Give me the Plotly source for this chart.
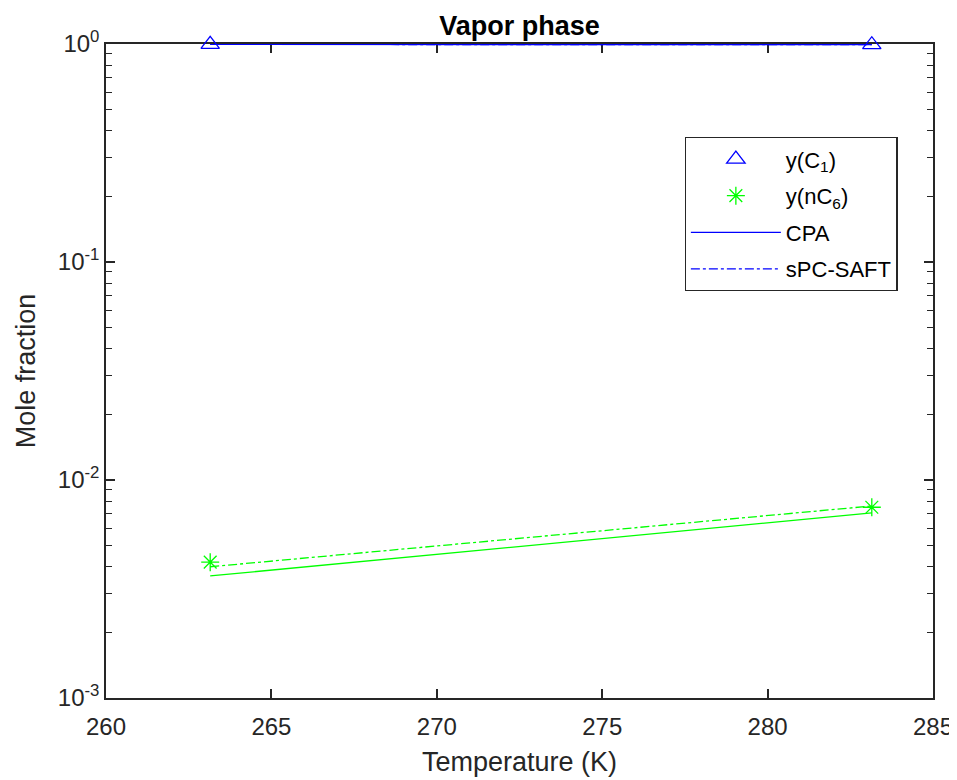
import plotly.graph_objects as go

T_exp = [263.15, 283.15]
y_C1_exp = [0.9958, 0.9925]
y_nC6_exp = [0.0042, 0.0075]

T_model = [263.15, 283.15]
cpa_nC6 = [0.00363, 0.00706]
cpa_C1 = [1 - v for v in cpa_nC6]
saft_nC6 = [0.0040, 0.0076]
saft_C1 = [1 - v for v in saft_nC6]

x_ticks = [260, 265, 270, 275, 280, 285]
y_ticks = [0.001, 0.01, 0.1, 1]
y_ticktext = ["10<sup>-3</sup>", "10<sup>-2</sup>", "10<sup>-1</sup>", "10<sup>0</sup>"]

BLUE = "#0000ff"
GREEN = "#00ff00"
FONT = "Liberation Sans, Arial, sans-serif"
AX = "#262626"

fig = go.Figure()
fig.add_trace(go.Scatter(x=T_exp, y=y_C1_exp, mode="markers", name="y(C<sub>1</sub>)",
                         legendgroup="a", cliponaxis=False,
                         marker=dict(symbol="triangle-up-open", size=16, color=BLUE, line=dict(width=1.3))))
fig.add_trace(go.Scatter(x=T_exp, y=y_nC6_exp, mode="markers", name="y(nC<sub>6</sub>)",
                         legendgroup="b", cliponaxis=False,
                         marker=dict(symbol="asterisk-open", size=15, color=GREEN, line=dict(width=1.3, color=GREEN))))
fig.add_trace(go.Scatter(x=T_model, y=cpa_C1, mode="lines", name="CPA", legendgroup="c",
                         cliponaxis=False, line=dict(color=BLUE, width=1.3)))
fig.add_trace(go.Scatter(x=T_model, y=saft_C1, mode="lines", name="sPC-SAFT", legendgroup="d",
                         cliponaxis=False, line=dict(color=BLUE, width=1.3, dash="dashdot")))
fig.add_trace(go.Scatter(x=T_model, y=cpa_nC6, mode="lines", showlegend=False,
                         line=dict(color=GREEN, width=1.3)))
fig.add_trace(go.Scatter(x=T_model, y=saft_nC6, mode="lines", showlegend=False,
                         line=dict(color=GREEN, width=1.3, dash="dashdot")))

minor_vals = [m * 10 ** e for e in (-3, -2, -1) for m in range(2, 10)]

fig.update_layout(
    width=957, height=780,
    margin=dict(l=98, r=30, t=36, b=90),
    paper_bgcolor="white", plot_bgcolor="white",
    font=dict(family=FONT, size=24, color=AX),
    title=dict(text="<b>Vapor phase</b>", xref="paper", x=0.5, xanchor="center",
               yref="container", y=0.977, yanchor="middle",
               font=dict(size=27, color="black")),
    xaxis=dict(range=[260, 285], tickvals=x_ticks, ticks="inside", ticklen=9, tickwidth=1.5,
               tickcolor=AX, showline=True, linecolor=AX, linewidth=1.5,
               mirror="ticks", showgrid=False, zeroline=False, layer="below traces",
               ticklabelstandoff=6, ticklabeloverflow="allow",
               title=dict(text="Temperature (K)", font=dict(size=27), standoff=14)),
    yaxis=dict(type="log", range=[-3, 0], tickvals=y_ticks, ticktext=y_ticktext,
               ticks="inside", ticklen=9, tickwidth=1.5, tickcolor=AX,
               showline=True, linecolor=AX, linewidth=1.5, mirror="ticks",
               showgrid=False, zeroline=False, layer="below traces",
               minor=dict(tickvals=minor_vals, ticks="inside", ticklen=6, tickwidth=1.3,
                          tickcolor=AX, showgrid=False),
               title=dict(text="Mole fraction", font=dict(size=27), standoff=14)),
    legend=dict(x=0.6996, y=0.8578, xanchor="left", yanchor="top",
                bordercolor=AX, borderwidth=1.3, bgcolor="white",
                font=dict(size=22, color="black"), itemwidth=90, tracegroupgap=5),
    showlegend=True,
)

fig.write_html("out.html")
